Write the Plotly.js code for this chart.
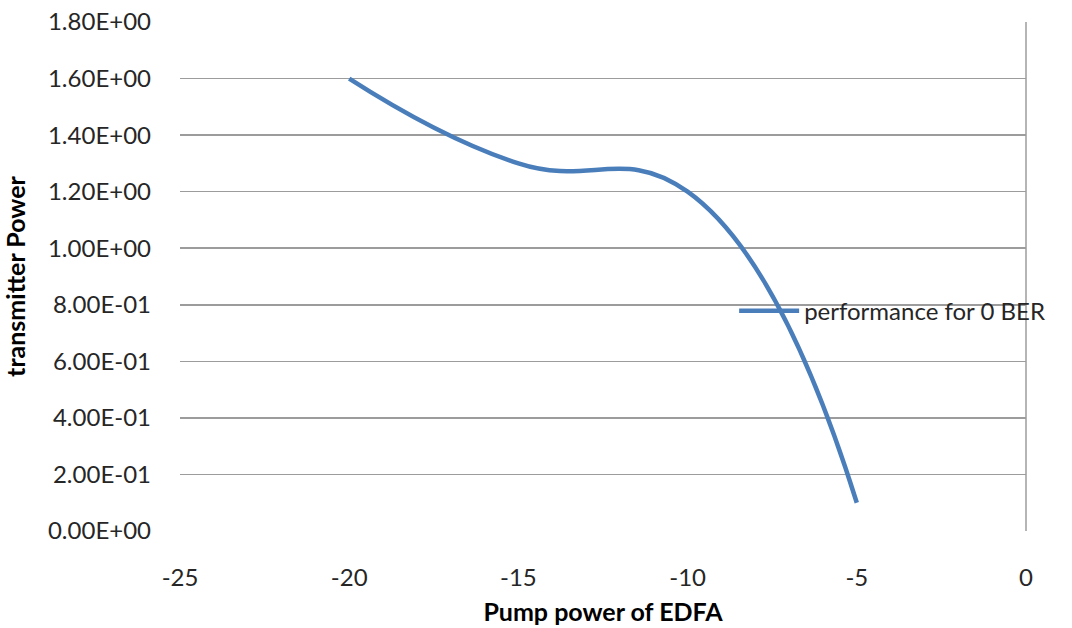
<!DOCTYPE html>
<html>
<head>
<meta charset="utf-8">
<script src="https://cdn.plot.ly/plotly-3.0.1.min.js"></script>
<style>html,body{margin:0;padding:0;background:#fff;}#chart{width:1072px;height:628px;}</style>
</head>
<body>
<div id="chart"></div>
<script>
const pumpPower = [-20, -15, -10, -5];
const transmitterPower = [1.6, 1.3, 1.2, 0.1];
const seriesName = "performance for 0 BER";
const yTickVals = [0, 0.2, 0.4, 0.6, 0.8, 1.0, 1.2, 1.4, 1.6, 1.8];
const yTickText = ["0.00E+00","2.00E-01","4.00E-01","6.00E-01","8.00E-01","1.00E+00","1.20E+00","1.40E+00","1.60E+00","1.80E+00"];
const xTickVals = [-25, -20, -15, -10, -5, 0];
const xTitle = "Pump power of EDFA";
const yTitle = "transmitter Power";

const font = "Lato, 'Open Sans', 'Liberation Sans', sans-serif";
const trace = {
  x: pumpPower, y: transmitterPower, name: seriesName,
  type: "scatter", mode: "lines",
  line: {color: "#4A7EBB", width: 4.5, shape: "spline", smoothing: 1.3},
  showlegend: true
};
const layout = {
  width: 1072, height: 628,
  margin: {l: 180, r: 46, t: 22, b: 97},
  paper_bgcolor: "#fff", plot_bgcolor: "#fff",
  font: {family: font, size: 24, color: "#262626"},
  xaxis: {
    range: [-25, 0], tickvals: xTickVals, ticktext: xTickVals.map(String),
    showgrid: false, zeroline: false, showline: false, ticks: "",
    ticklabelstandoff: 30,
    title: {text: "<b>" + xTitle + "</b>", font: {size: 25, color: "#000"}, standoff: 13}
  },
  yaxis: {
    range: [0, 1.8], tickvals: yTickVals, ticktext: yTickText,
    showgrid: true, gridcolor: "#9c9c9c", gridwidth: 1.5,
    zeroline: false, showline: false, ticks: "",
    ticklabelstandoff: 28,
    title: {text: "<b>" + yTitle + "</b>", font: {size: 25, color: "#000"}, standoff: 16}
  },
  shapes: [{type: "line", xref: "paper", yref: "paper", x0: 1, x1: 1, y0: 0, y1: 1,
            line: {color: "#9c9c9c", width: 1.5}}],
  legend: {x: 0.655, y: 0.432, xanchor: "left", yanchor: "middle",
           bgcolor: "rgba(0,0,0,0)", itemwidth: 60,
           font: {size: 24, color: "#262626"}}
};
Plotly.newPlot("chart", [trace], layout, {displayModeBar: false, staticPlot: true});
</script>
</body>
</html>
